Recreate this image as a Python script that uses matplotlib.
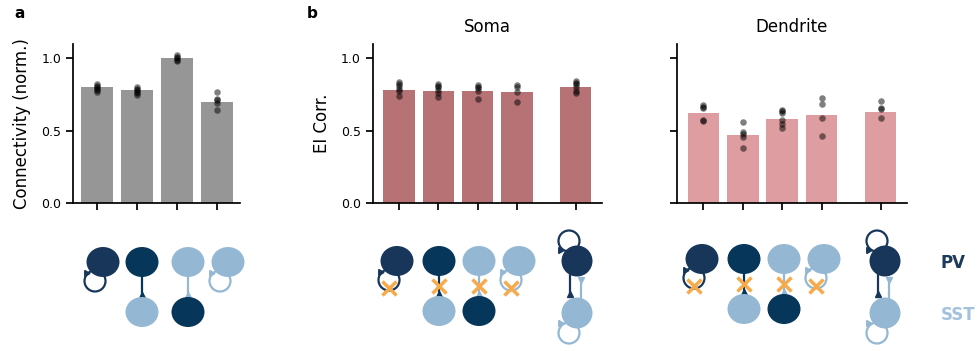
import matplotlib.pyplot as plt
from matplotlib.patches import Ellipse, Circle

# bar heights and the individual points on top of them
conn_means = [0.80, 0.78, 1.00, 0.70]
conn_points = [
    [0.82, 0.81, 0.80, 0.79, 0.78, 0.77],
    [0.80, 0.79, 0.785, 0.77, 0.76, 0.75],
    [1.025, 1.01, 1.00, 0.99, 0.98],
    [0.77, 0.72, 0.71, 0.69, 0.64],
]
soma_means = [0.785, 0.778, 0.778, 0.771, 0.80]
soma_points = [
    [0.835, 0.82, 0.81, 0.79, 0.775, 0.74],
    [0.825, 0.81, 0.80, 0.78, 0.76, 0.735],
    [0.815, 0.805, 0.795, 0.775, 0.72],
    [0.815, 0.805, 0.77, 0.70],
    [0.845, 0.83, 0.82, 0.80, 0.775, 0.76],
]
dend_means = [0.626, 0.473, 0.584, 0.612, 0.633]
dend_points = [
    [0.675, 0.665, 0.655, 0.575, 0.565],
    [0.56, 0.49, 0.48, 0.455, 0.38],
    [0.645, 0.635, 0.62, 0.575, 0.55, 0.52],
    [0.725, 0.685, 0.59, 0.465],
    [0.705, 0.655, 0.65, 0.585],
]
conn_x = [0, 1, 2, 3]
ei_x = [0, 1, 2, 3, 4.5]

PV = "#17365a"
PV2 = "#06365a"
SST = "#94b8d3"
ORANGE = "#f8aa4b"

plt.rcParams["font.family"] = "DejaVu Sans"

fig = plt.figure(figsize=(9.79, 3.51), dpi=100)
W, H = 979, 351


def add_ax(left, right, top=44, bottom=203):
    return fig.add_axes([left / W, (H - bottom) / H, (right - left) / W, (bottom - top) / H])


def style(ax, xlim):
    ax.set_ylim(0, 1.1)
    ax.set_xlim(*xlim)
    ax.set_yticks([0, 0.5, 1.0])
    ax.set_yticklabels(["0.0", "0.5", "1.0"])
    ax.spines[["top", "right"]].set_visible(False)
    for s in ["left", "bottom"]:
        ax.spines[s].set_linewidth(1.25)
    ax.tick_params(width=1.25, length=5, labelsize=9)


def bars(ax, xs, means, points, color):
    ax.bar(xs, means, width=0.8, color=color, zorder=1)
    for x, pts in zip(xs, points):
        ax.scatter([x] * len(pts), pts, s=22, color="black", alpha=0.5,
                   linewidths=0, zorder=3)
    ax.set_xticks(xs)
    ax.set_xticklabels([])


ax_a = add_ax(73, 240)
bars(ax_a, conn_x, conn_means, conn_points, "#969696")
style(ax_a, (-0.6, 3.58))
ax_a.set_ylabel("Connectivity (norm.)", fontsize=12, labelpad=7)

ax_s = add_ax(372.7, 601.7)
bars(ax_s, ei_x, soma_means, soma_points, "#b77275")
style(ax_s, (-0.67, 5.16))
ax_s.set_ylabel("EI Corr.", fontsize=12, labelpad=7)
ax_s.set_title("Soma", fontsize=12, pad=9)

ax_d = add_ax(677, 906.7)
bars(ax_d, ei_x, dend_means, dend_points, "#de9da0")
style(ax_d, (-0.67, 5.16))
ax_d.set_yticklabels([])
ax_d.set_title("Dendrite", fontsize=12, pad=9)

fig.text(14 / W, 1 - 18 / H, "a", fontsize=11, fontweight="bold")
fig.text(307 / W, 1 - 18 / H, "b", fontsize=11, fontweight="bold")

# network motif sketches, drawn in pixel coordinates
dg = fig.add_axes([0, 0, 1, 1], zorder=-1)
dg.set_xlim(0, W)
dg.set_ylim(H, 0)
dg.axis("off")


def cell(x, y, color, w=33, h=30):
    dg.add_patch(Ellipse((x, y), w, h, color=color, lw=0, zorder=3))


def ring(cx, cy, color, arrow_y):
    dg.add_patch(Circle((cx, cy), 10.5, fill=False, ec=color, lw=1.6, zorder=2))
    dg.plot(cx - 9, arrow_y, marker=(3, 0, -90), ms=5, color=color, zorder=2)


def cross(x, y):
    dg.plot(x, y, marker="x", ms=10, mew=2.5, color=ORANGE, zorder=4)


def motif(x, y, kind, blocked=False, gap=50):
    if kind in ("pp", "ss"):
        color = PV if kind == "pp" else SST
        ring(x - 8, y + 19, color, y + 11)
        cell(x, y, color)
        if blocked:
            cross(x - 8, y + 27)
    else:
        top, bot = (PV2, SST) if kind == "ps" else (SST, PV2)
        cell(x, y, top)
        cell(x, y + gap, bot)
        dg.plot([x, x], [y + 12, y + gap - 16], color=top, lw=1.6, zorder=2)
        dg.plot(x, y + gap - 17, marker="^", ms=5, color=top, zorder=2)
        if blocked:
            cross(x, y + 25)


def recurrent(x, y, gap=52):
    ring(x - 8, y - 20, PV, y - 11)
    ring(x - 8, y + gap + 20, SST, y + gap + 10)
    cell(x, y, PV, 31, 31)
    cell(x, y + gap, SST, 31, 31)
    dg.plot([x - 7, x - 7], [y + 14, y + 33], color=PV, lw=1.6, zorder=2)
    dg.plot(x - 7, y + 33, marker="^", ms=5, color=PV, zorder=2)
    dg.plot([x + 4, x + 4], [y + gap - 14, y + 19], color=SST, lw=1.6, zorder=2)
    dg.plot(x + 4, y + 19, marker="v", ms=5, color=SST, zorder=2)


kinds = ["pp", "ps", "sp", "ss"]
for x, k in zip([103, 142, 188, 228], kinds):
    motif(x, 262, k)
for x, k in zip([397, 439, 479, 519], kinds):
    motif(x, 261, k, blocked=True)
recurrent(577, 261)
for x, k in zip([702, 744, 784, 824], kinds):
    motif(x, 259, k, blocked=True)
recurrent(885, 261)

fig.text(941 / W, 1 - 263 / H, "PV", fontsize=12, fontweight="bold",
         color="#1b3a5c", va="center")
fig.text(941 / W, 1 - 315 / H, "SST", fontsize=12, fontweight="bold",
         color="#a3c1da", va="center")

fig.savefig("out.png", dpi=100)
